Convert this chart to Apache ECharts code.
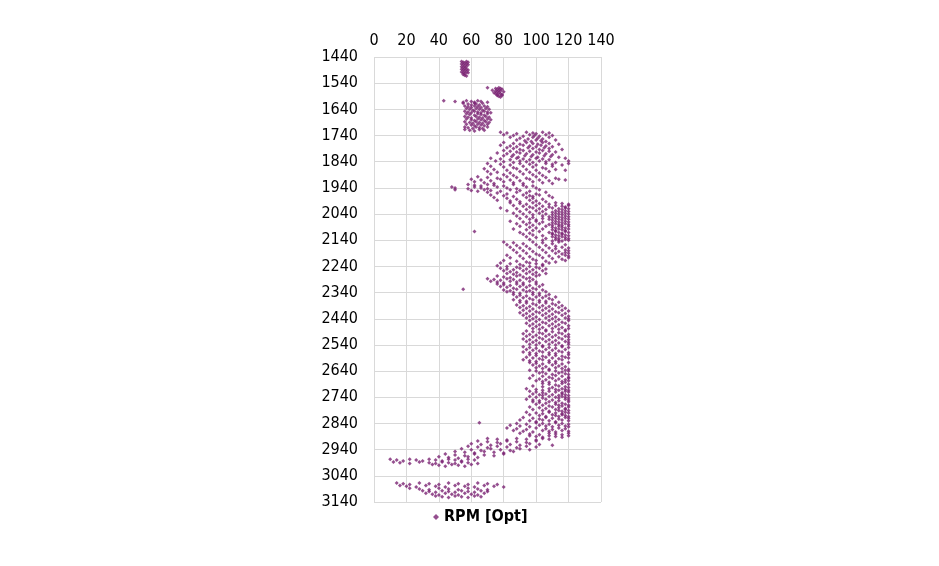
<!DOCTYPE html>
<html>
<head>
<meta charset="utf-8">
<script src="https://cdn.jsdelivr.net/npm/echarts@6/dist/echarts.min.js"></script>
<style>html,body{margin:0;padding:0;background:#fff}#chart{width:939px;height:566px}</style>
</head>
<body>
<div id="chart"></div>
<script>
var depths = [1460,1470,1480,1490,1500,1510,1560,1570,1580,1590,
  1610,1620,1630,1640,1650,1660,1670,1680,1690,1700,1710,1720,
  1730,1740,1750,1760,1770,1780,1790,1800,1810,1820,1830,1840,1850,1860,1870,1880,1890,
  1900,1910,1920,1930,1940,1950,1960,1970,1980,1990,
  2000,2010,2020,2030,2040,2050,2060,2070,2080,2090,2100,2110,2120,2130,2140,
  2150,2160,2170,2180,2190,2200,2210,2220,2230,2240,2250,2260,2270,2280,2290,2300,2310,2320,2330,2340,
  2350,2360,2370,2380,2390,2400,2410,2420,2430,2440,2450,2460,2470,2480,
  2490,2500,2510,2520,2530,2540,2550,2560,2570,2580,2590,2600,2610,2620,2630,2640,2650,2660,2670,2680,2690,2700,
  2710,2720,2730,2740,2750,2760,2770,2780,2790,2800,2810,2820,2830,2840,2850,2860,2870,2880,2890,
  2900,2910,2920,2930,2940,2950,2960,2970,2980,2990,3000,
  3070,3080,3090,3100,3110,3120];
var rpmRows = [
  [54,55,56,57,58],[54,55,56,57,58],[54,55,56,57],[54,55,56,57,58],[54,55,56,57,58],[55,56,57],
  [70,75,76,77,78,79],[73,75,76,77,78,80],[74,75,76,77,78,79],[76,77,78,79],
  [43,50,55,57,60,62,64,66,70],[55,58,60,62,63,65,67],[56,58,60,62,64,66,68,70],[57,59,61,63,65,67,69,71],
  [56,58,60,62,64,66,68,70,72],[57,59,62,64,66,68,70],[56,58,60,63,65,67,69,71],[57,60,62,64,66,68,70,72],
  [56,59,61,63,65,67,69,71],[57,60,62,64,66,68,70],[56,58,61,63,65,67,70],[56,59,62,65,68],
  [78,82,88,94,98,100,104,108],[80,86,92,96,99,102,106,110],[84,90,95,98,101,104,108],[88,93,97,100,103,106,112],
  [80,86,90,94,98,101,104,108,114],[78,84,88,92,96,100,103,106,110],[82,86,90,95,98,102,105,108,116],
  [80,84,88,92,96,100,104,108,112],[76,82,86,90,94,98,102,106,110],[80,85,89,93,97,101,105,109,114],
  [72,78,84,88,92,96,100,104,108,118],[75,80,86,90,94,98,102,106,112,120],[70,78,84,90,96,100,106,110,116,120],
  [72,80,86,92,98,104,110],[68,74,82,88,94,100,106,112,118],[70,76,84,90,96,102,108],[72,80,86,92,98,104],
  [64,70,76,82,88,94,100,106,112],[60,66,72,78,84,90,96,102,108,114,118],[62,68,74,80,86,92,98,104,110],
  [58,62,66,70,74,80,86,92,98],[48,50,58,62,66,70,76,82,88,94,100],[50,60,64,68,72,78,84,90,96,102],
  [70,76,82,88,94,100,106],[72,80,86,92,96,98,102,108],[74,82,88,94,98,104,110],[76,84,90,96,100,106],
  [84,90,94,98,102,108,112,116,120],[86,92,96,100,104,108,112,116,118,120],[78,88,94,98,102,106,110,114,116,118,120],
  [82,90,96,100,104,110,112,114,116,118,120],[86,92,98,102,106,110,112,114,116,118,120],
  [88,94,98,104,108,110,112,114,116,118,120],[90,96,100,104,108,110,112,114,116,118,120],
  [84,92,96,100,104,110,112,114,116,118,120],[88,94,98,102,108,110,112,114,116,118,120],
  [90,96,100,106,110,112,114,116,118,120],[86,94,98,104,110,112,114,116,118,120],
  [62,90,96,102,108,110,112,114,116,118,120],[92,98,104,110,112,114,116,118,120],[94,100,106,110,112,114,116,118,120],
  [96,104,110,112,114,116,118,120],
  [80,86,92,98,104,110,114],[82,88,94,100,106,112,118],[84,90,96,102,108,112,116,120],
  [86,92,98,104,110,114,118,120],[88,94,100,106,112,116,118,120],[82,90,96,102,108,114,118,120],
  [84,92,98,104,110,116,120],[80,88,94,100,106,112,118],[78,84,90,96,100,104,108],
  [76,82,88,92,96,100,104],[78,82,86,90,94,98,102,106],[80,84,88,92,96,100,104],
  [82,86,90,94,98,102,106],[76,80,84,88,92,96,100],[70,74,78,82,86,90,94,98],
  [72,76,80,84,88,92,96,100],[76,80,84,88,92,96,100,104],[78,82,86,90,94,98,102],
  [55,80,84,88,92,96,100,104],[82,86,90,94,98,102,106],
  [86,90,94,98,102,106,108],[88,92,96,100,104,108,112],[86,90,94,98,102,106,110],
  [90,94,98,102,106,110,114],[88,92,96,100,104,108,112,116],[90,94,98,102,106,110,114,118],
  [92,96,100,104,108,112,116,120],[90,94,98,102,106,110,114,118],[92,96,100,104,108,112,116,120],
  [94,98,102,106,110,114,118,120],[96,100,104,108,112,116,120],[94,98,102,106,110,114,118],
  [96,100,104,108,112,116,120],[98,102,106,110,114,118,120],
  [94,98,102,106,110,114,118],[92,96,100,104,108,112,116,120],[94,98,102,106,110,114,118,120],
  [92,96,100,104,108,112,116,120],[94,98,102,106,110,114,118,120],[96,100,104,108,112,116,120],
  [92,96,100,104,108,112,116,120],[94,98,102,106,110,114,118],[92,96,100,104,108,112,116,120],
  [96,100,104,108,112,116,120],[94,98,102,106,110,114,118,120],[92,96,100,104,108,112,116],
  [96,100,104,108,112,116,120],[98,102,106,110,114,118],[100,104,108,112,116,120],
  [96,100,104,108,112,116,118,120],[102,106,110,114,118,120],[98,104,108,112,116,120],
  [96,102,106,110,114,118,120],[100,104,108,112,116,118,120],[104,108,112,116,120],[98,104,110,114,118,120],
  [94,100,104,108,112,114,116,118,120],[96,100,104,108,112,116,118,120],[98,102,104,106,110,114,116,118,120],
  [96,100,104,108,112,114,116,118,120],[94,98,102,106,110,114,118,120],[98,102,106,108,112,116,120],
  [100,104,108,112,114,116,118,120],[96,102,106,110,114,118,120],[98,104,108,112,114,116,118,120],
  [94,100,104,108,112,116,118,120],[96,102,106,110,112,114,116,118,120],[92,98,102,106,110,114,118,120],
  [90,96,100,104,108,112,116,120],[65,88,94,100,104,108,112,116,120],[84,90,96,102,106,110,114,118,120],
  [82,88,94,100,106,110,114,118],[86,92,98,104,108,112,116,120],[90,96,102,108,112,116,120],
  [96,100,104,108,112,116,120],
  [70,76,82,88,94,100,104,108],[64,70,76,82,88,94,100],[60,66,72,78,84,90,96,102,110],
  [58,64,70,76,82,88,94,100],[54,60,66,72,78,84,90,96],[50,56,62,68,74,80,86],
  [44,50,56,62,68,74,80],[40,46,52,58,64],
  [10,14,18,22,26,30,34,38,42,46,50,54,58,62],[12,16,22,28,34,38,42,46,50,54,58,64],[36,40,44,48,52,56,60],
  [14,18,22,28,34,40,46,52,58,64,70,76],[16,20,26,32,38,44,50,56,62,68,74,80],[22,28,34,40,46,52,58,64,70],
  [30,34,38,42,46,50,54,58,62,66,70],[32,36,40,44,48,52,56,60,64,68],[38,42,46,50,54,58,62,66]
];
var seriesName = 'RPM [Opt]';

var points = [];
depths.forEach(function (d, i) {
    rpmRows[i].forEach(function (r, j) {
        // small stagger so points on the same row do not overlap into a line
        points.push([r, d + ((j % 3) - 1) * 3]);
    });
});

var myChart = echarts.init(document.getElementById('chart'));
var fontName = 'Liberation Sans Narrow, DejaVu Sans Condensed, Arial';
var labelFont = { fontFamily: fontName, fontSize: 16, color: '#000', formatter: function (v) { return String(v); } };
var option = {
    animation: false,
    grid: { left: 374, right: 338, top: 57, bottom: 64 },
    legend: {
        bottom: 36, left: 428,
        data: [seriesName],
        itemWidth: 6, itemHeight: 6,
        textStyle: { fontFamily: fontName, fontSize: 16, fontWeight: 'bold', color: '#000' }
    },
    xAxis: {
        type: 'value', position: 'top', min: 0, max: 140, interval: 20,
        axisLine: { show: false }, axisTick: { show: false },
        splitLine: { lineStyle: { color: '#d9d9d9' } },
        axisLabel: labelFont
    },
    yAxis: {
        type: 'value', inverse: true, min: 1440, max: 3140, interval: 100,
        axisLine: { show: false }, axisTick: { show: false },
        splitLine: { lineStyle: { color: '#d9d9d9' } },
        axisLabel: Object.assign({ margin: 16 }, labelFont)
    },
    series: [{
        name: seriesName,
        type: 'scatter',
        symbol: 'diamond',
        symbolSize: 4,
        itemStyle: { color: '#7b2373' },
        data: points
    }]
};
myChart.setOption(option, true);
</script>
</body>
</html>
